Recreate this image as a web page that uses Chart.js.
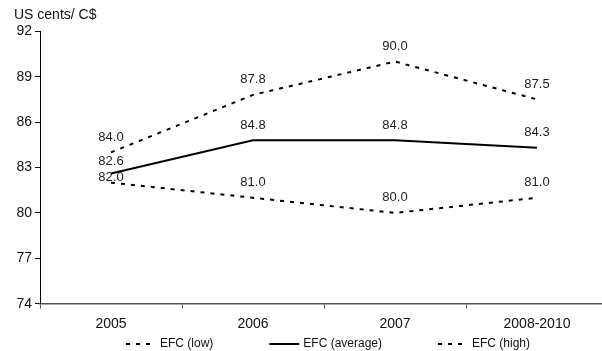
<!DOCTYPE html>
<html>
<head>
<meta charset="utf-8">
<script src="https://cdn.jsdelivr.net/npm/chart.js@4/dist/chart.umd.min.js"></script>
<style>
  html, body { margin: 0; padding: 0; background: #fff; }
  #frame { width: 602px; height: 351px; overflow: hidden; position: relative; }
  #frame canvas { position: absolute; left: 0; top: 0; }
</style>
</head>
<body>
<div id="frame"><canvas id="chart" width="608" height="351"></canvas></div>
<script>
// Exchange-rate forecast, US cents per Canadian dollar
const categories = ['2005', '2006', '2007', '2008-2010'];
const efcLow = [82.0, 81.0, 80.0, 81.0];
const efcAverage = [82.6, 84.8, 84.8, 84.3];
const efcHigh = [84.0, 87.8, 90.0, 87.5];
const seriesNames = ['EFC (low)', 'EFC (average)', 'EFC (high)'];
const unitLabel = 'US cents/ C$';

// How far above each point its value label sits (px)
const labelLift = [
  [5, 15, 15, 15],
  [12, 15, 15, 15],
  [15, 15, 15, 15]
];

const FONT = '"Liberation Sans", Arial, sans-serif';
const DASH = [4, 6];

// Writes each point's value just above it
const valueLabels = {
  id: 'valueLabels',
  afterDatasetsDraw(chart) {
    const ctx = chart.ctx;
    ctx.save();
    ctx.font = '13px ' + FONT;
    ctx.fillStyle = '#222';
    ctx.textAlign = 'center';
    ctx.textBaseline = 'middle';
    chart.data.datasets.forEach((ds, i) => {
      const meta = chart.getDatasetMeta(i);
      meta.data.forEach((pt, j) => {
        ctx.fillText(ds.data[j].toFixed(1), pt.x, pt.y - labelLift[i][j]);
      });
    });
    ctx.restore();
  }
};

// Legend row under the axis: line sample followed by series name
const lineLegend = {
  id: 'lineLegend',
  afterDraw(chart, args, opts) {
    const ctx = chart.ctx;
    const sample = opts.sampleWidth, textGap = opts.textGap, itemGap = opts.itemGap;
    ctx.save();
    ctx.font = opts.fontSize + 'px ' + FONT;
    const items = chart.data.datasets.map(ds => ({
      ds, w: sample + textGap + ctx.measureText(ds.label).width
    }));
    const total = items.reduce((s, it) => s + it.w, 0) + itemGap * (items.length - 1);
    const area = chart.chartArea;
    let x = (area.left + area.right) / 2 + opts.shift - total / 2;
    const y = chart.height - opts.bottom;
    items.forEach(it => {
      ctx.strokeStyle = it.ds.borderColor;
      ctx.lineWidth = it.ds.borderWidth;
      ctx.setLineDash(it.ds.borderDash || []);
      ctx.beginPath();
      ctx.moveTo(x, y);
      ctx.lineTo(x + sample, y);
      ctx.stroke();
      ctx.setLineDash([]);
      ctx.fillStyle = '#111';
      ctx.textAlign = 'left';
      ctx.textBaseline = 'middle';
      ctx.fillText(it.ds.label, x + sample + textGap, y);
      x += it.w + itemGap;
    });
    ctx.restore();
  }
};

new Chart(document.getElementById('chart'), {
  type: 'line',
  data: {
    labels: categories,
    datasets: [
      { label: seriesNames[0], data: efcLow, borderColor: '#000', borderWidth: 2, borderDash: DASH },
      { label: seriesNames[1], data: efcAverage, borderColor: '#000', borderWidth: 2 },
      { label: seriesNames[2], data: efcHigh, borderColor: '#000', borderWidth: 2, borderDash: DASH }
    ]
  },
  options: {
    responsive: false,
    animation: false,
    events: [],
    elements: {
      point: { radius: 0, hoverRadius: 0 },
      line: { tension: 0, fill: false }
    },
    layout: { padding: { left: 14, right: 0, top: 0, bottom: 11.5 } },
    plugins: {
      legend: { display: false },
      tooltip: { enabled: false },
      title: {
        display: true,
        text: unitLabel,
        align: 'start',
        color: '#111',
        font: { family: FONT, size: 14, weight: 'normal' },
        padding: { top: 7, bottom: 7.5 }
      },
      lineLegend: { sampleWidth: 30, textGap: 4, itemGap: 56, fontSize: 12, shift: 4, bottom: 7 }
    },
    scales: {
      x: {
        type: 'category',
        offset: true,
        grid: { display: true, drawOnChartArea: false, drawTicks: true, tickLength: 5, offset: true, color: '#555', lineWidth: 1 },
        border: { display: true, color: '#555', width: 1.5 },
        ticks: { color: '#111', padding: 7, font: { family: FONT, size: 14 }, maxRotation: 0 }
      },
      y: {
        min: 74,
        max: 92,
        grid: { display: true, drawOnChartArea: false, drawTicks: true, tickLength: 5, color: '#000' },
        border: { display: true, color: '#000', width: 1 },
        ticks: { stepSize: 3, color: '#111', padding: 3, font: { family: FONT, size: 14 } },
        afterFit(scale) { scale.width = 26; }
      }
    }
  },
  plugins: [valueLabels, lineLegend]
});
</script>
</body>
</html>
